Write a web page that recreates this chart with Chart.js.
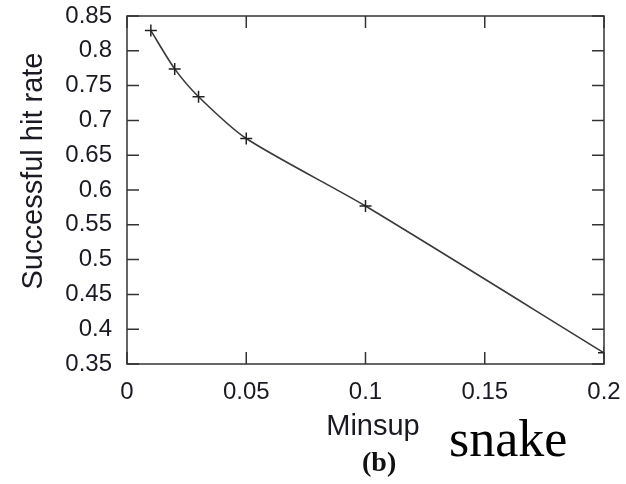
<!DOCTYPE html>
<html lang="en">
<head>
    <meta charset="UTF-8">
    <title>Successful hit rate vs Minsup</title>
    <script src="https://cdn.jsdelivr.net/npm/chart.js"></script>
    <style>
        body { margin: 0; background: #fff; }
        .box { position: relative; width: 626px; height: 484px; }
        .legenda-b { position: absolute; left: 362px; top: 446px; font: bold 28px "Liberation Serif", serif; color: #111; }
        .snake { position: absolute; left: 449px; top: 409px; font: 52px "Liberation Serif", serif; color: #000; }
    </style>
</head>
<body>
    <div class="box">
        <canvas id="myChart" width="626" height="484"></canvas>
        <div class="legenda-b">(b)</div>
        <div class="snake">snake</div>
    </div>
<script>
    // dados
    const minsup = [0.01, 0.02, 0.03, 0.05, 0.1, 0.2];
    const taxaAcerto = [0.829, 0.774, 0.734, 0.674, 0.577, 0.366];
    const ticksX = [0, 0.05, 0.1, 0.15, 0.2];
    const ticksY = [0.35, 0.4, 0.45, 0.5, 0.55, 0.6, 0.65, 0.7, 0.75, 0.8, 0.85];
    const tituloX = 'Minsup';
    const tituloY = 'Successful hit rate';

    const corEixo = '#333';
    const corTexto = '#1a1a22';

    // moldura, ticks para dentro (estilo gnuplot) e titulos dos eixos
    const molduraPlugin = {
        id: 'moldura',
        afterDraw(chart) {
            const ctx = chart.ctx;
            const a = chart.chartArea;
            const sx = chart.scales.x, sy = chart.scales.y;
            const tam = 12;
            ctx.save();
            ctx.strokeStyle = corEixo;
            ctx.lineWidth = 1.5;
            ctx.strokeRect(a.left, a.top, a.right - a.left, a.bottom - a.top);
            ctx.beginPath();
            ticksX.forEach(v => {
                const px = sx.getPixelForValue(v);
                ctx.moveTo(px, a.bottom); ctx.lineTo(px, a.bottom - tam);
                ctx.moveTo(px, a.top); ctx.lineTo(px, a.top + tam);
            });
            ticksY.forEach(v => {
                const py = sy.getPixelForValue(v);
                ctx.moveTo(a.left, py); ctx.lineTo(a.left + tam, py);
                ctx.moveTo(a.right, py); ctx.lineTo(a.right - tam, py);
            });
            ctx.stroke();

            ctx.fillStyle = corTexto;
            ctx.font = '29px "Liberation Sans"';
            ctx.textAlign = 'center';
            ctx.textBaseline = 'alphabetic';
            ctx.fillText(tituloX, 373, 435);
            ctx.translate(42, 171);
            ctx.rotate(-Math.PI / 2);
            ctx.fillText(tituloY, 0, 0);
            ctx.restore();
        }
    };

    const fonteTick = { family: 'Liberation Sans', size: 24 };

    const config = {
        type: 'line',
        data: {
            datasets: [{
                data: minsup.map((x, i) => ({ x: x, y: taxaAcerto[i] })),
                borderColor: '#3a3a3a',
                borderWidth: 1.6,
                pointStyle: 'cross',
                pointRadius: 6,
                pointBorderColor: '#222',
                pointBorderWidth: 1.5,
                tension: 0.25,
                fill: false
            }]
        },
        options: {
            responsive: false,
            animation: false,
            layout: { padding: { top: 16, right: 22, bottom: 0, left: 0 } },
            plugins: { legend: { display: false }, tooltip: { enabled: false } },
            scales: {
                x: {
                    type: 'linear',
                    min: 0, max: 0.2,
                    afterBuildTicks: s => { s.ticks = ticksX.map(v => ({ value: v })); },
                    afterFit: s => { s.height = 120; s.paddingLeft = 0; s.paddingRight = 0; },
                    grid: { display: false, drawTicks: false },
                    border: { display: false },
                    ticks: {
                        color: corTexto, font: fonteTick, padding: 14, maxRotation: 0,
                        callback: v => String(parseFloat(v.toFixed(2)))
                    }
                },
                y: {
                    min: 0.35, max: 0.85,
                    afterBuildTicks: s => { s.ticks = ticksY.map(v => ({ value: v })); },
                    afterFit: s => { s.width = 127; s.paddingTop = 0; s.paddingBottom = 0; },
                    grid: { display: false, drawTicks: false },
                    border: { display: false },
                    ticks: {
                        color: corTexto, font: fonteTick, padding: 15,
                        callback: v => String(parseFloat(v.toFixed(2)))
                    }
                }
            }
        },
        plugins: [molduraPlugin]
    };

    new Chart(document.getElementById('myChart'), config);
</script>
</body>
</html>
